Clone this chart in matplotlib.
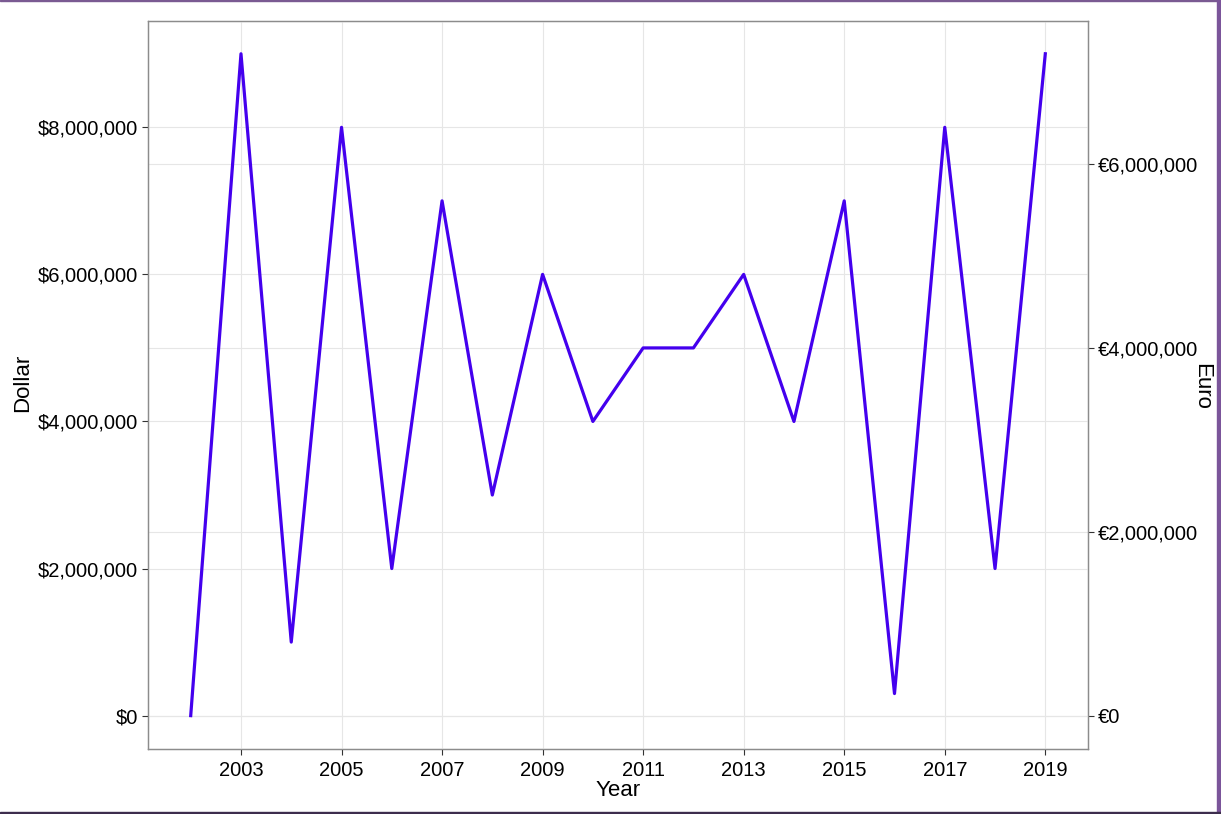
import matplotlib
matplotlib.use("Agg")
import matplotlib.pyplot as plt
from matplotlib.ticker import FuncFormatter
from matplotlib.patches import Rectangle

plt.rcParams['font.family'] = ['Liberation Sans', 'DejaVu Sans']

# data
years = list(range(2002, 2020))
dollars = [0, 9e6, 1e6, 8e6, 2e6, 7e6, 3e6, 6e6, 4e6, 5e6, 5e6, 6e6, 4e6, 7e6, 0.3e6, 8e6, 2e6, 9e6]
EUR_RATE = 0.8  # euro axis = dollar * 0.8
year_ticks = list(range(2003, 2020, 2))
dollar_ticks = [0, 2e6, 4e6, 6e6, 8e6]
euro_ticks = [0, 2e6, 4e6, 6e6]

fig = plt.figure(figsize=(12.21, 8.14), dpi=100)
ax = fig.add_axes([0.1212, 0.0802, 0.7699, 0.8944])

ax.plot(years, dollars, color='#4400ee', lw=2.3, zorder=3)

ylo, yhi = -0.45e6, 9.45e6
ax.set_xlim(2001.15, 2019.85)
ax.set_ylim(ylo, yhi)
ax.set_xticks(year_ticks)
ax.set_yticks(dollar_ticks)
ax.yaxis.set_major_formatter(FuncFormatter(lambda v, p: "${:,.0f}".format(v)))

ax2 = ax.twinx()
ax2.set_ylim(ylo * EUR_RATE, yhi * EUR_RATE)
ax2.set_yticks(euro_ticks)
ax2.yaxis.set_major_formatter(FuncFormatter(lambda v, p: "€{:,.0f}".format(v)))

gridc = '#e6e6e6'
ax.grid(True, color=gridc, lw=0.8)
ax2.grid(True, axis='y', color=gridc, lw=0.8)
ax.set_axisbelow(True)
ax2.set_zorder(0)
ax.set_zorder(1)
ax.patch.set_visible(False)

for a in (ax, ax2):
    for s in a.spines.values():
        s.set_color('#8c8c8c')
        s.set_linewidth(0.9)
    a.tick_params(length=4, width=0.8, color='#333333', labelsize=14.5, pad=3, labelcolor='black')
ax.tick_params(axis='x', pad=5)

ax.set_xlabel("Year", fontsize=16, labelpad=0)
ax.set_ylabel("Dollar", fontsize=16)
ax2.set_ylabel("Euro", fontsize=16, rotation=-90)
ax.yaxis.set_label_coords(-0.1223, 0.502)
ax2.yaxis.set_label_coords(1.132, 0.498)

# purple frame around the image
fig.patches.append(Rectangle((0, 0.9985), 1, 0.0015, transform=fig.transFigure,
                             color='#7a5a92', zorder=10))
fig.patches.append(Rectangle((0.9967, 0), 0.0033, 1, transform=fig.transFigure,
                             color='#7b559a', zorder=10))
fig.patches.append(Rectangle((0, 0), 1, 0.003, transform=fig.transFigure,
                             color='#3d2d4d', zorder=10))

fig.savefig("out.png", dpi=100)
